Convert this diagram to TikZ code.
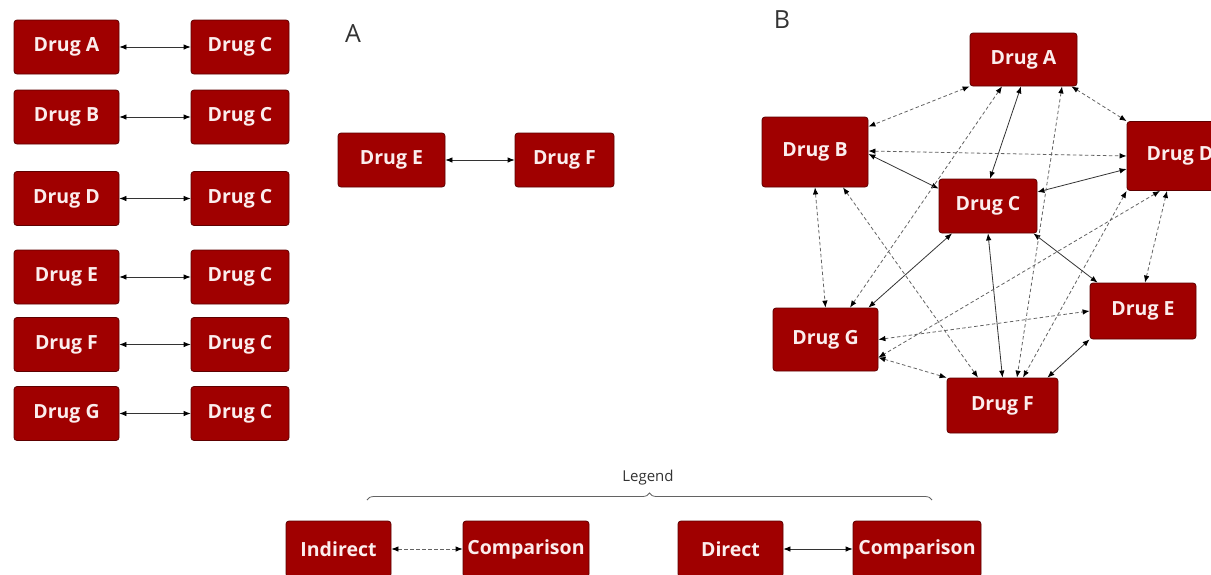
\documentclass[tikz,border=0pt]{standalone}
\usepackage{fontspec}
\setmainfont{Open Sans}
\usetikzlibrary{arrows.meta,decorations.pathreplacing}
\definecolor{drugfill}{HTML}{A00000}
\definecolor{drugedge}{HTML}{5E0000}
\definecolor{drugtext}{HTML}{FBEDED}
\definecolor{linedark}{HTML}{333333}
\definecolor{linelight}{HTML}{636363}
\tikzset{
  drug/.style={draw=drugedge, fill=drugfill, rounded corners=3pt, line width=0.8pt,
               text=drugtext, font=\bfseries\fontsize{19.5}{21}\selectfont,
               minimum height=54pt, inner sep=0pt},
  direct/.style={{Latex[length=7pt,width=5.5pt,color=black]}-{Latex[length=7pt,width=5.5pt,color=black]},
                 draw=linedark, line width=0.8pt},
  indirect/.style={direct, draw=linelight, dash pattern=on 3.5pt off 2.5pt},
  panel/.style={font=\fontsize{25}{28}\selectfont, text=black!80},
}

\begin{document}
\begin{tikzpicture}[x=1pt, y=-1pt]
    \useasboundingbox (0,0) rectangle (1211,574);
    \node[drug, minimum width=105pt] (la) at (66.5, 47) {Drug A};
    \node[drug, minimum width=98pt] (lac) at (240, 47) {Drug C};
    \node[drug, minimum width=105pt] (lb) at (66.5, 117) {Drug B};
    \node[drug, minimum width=98pt] (lbc) at (240, 117) {Drug C};
    \node[drug, minimum width=105pt] (ld) at (66.5, 198.5) {Drug D};
    \node[drug, minimum width=98pt] (ldc) at (240, 198.5) {Drug C};
    \node[drug, minimum width=105pt] (le) at (66.5, 277) {Drug E};
    \node[drug, minimum width=98pt] (lec) at (240, 277) {Drug C};
    \node[drug, minimum width=105pt] (lf) at (66.5, 344.5) {Drug F};
    \node[drug, minimum width=98pt] (lfc) at (240, 344.5) {Drug C};
    \node[drug, minimum width=105pt] (lg) at (66.5, 413.5) {Drug G};
    \node[drug, minimum width=98pt] (lgc) at (240, 413.5) {Drug C};
    \draw[direct] (la) -- (lac);
    \draw[direct] (lb) -- (lbc);
    \draw[direct] (ld) -- (ldc);
    \draw[direct] (le) -- (lec);
    \draw[direct] (lf) -- (lfc);
    \draw[direct] (lg) -- (lgc);

    \node[panel] (lblA) at (353, 34) {A};
    \node[drug, minimum width=107pt] (pe) at (391.5, 160) {Drug E};
    \node[drug, minimum width=99pt] (pf) at (564.5, 160) {Drug F};
    \draw[direct] (pe) -- (pf);

    \node[panel] (lblB) at (782, 20) {B};
    \node[drug, minimum width=107pt, minimum height=53pt] (nA) at (1023.5, 59.5) {Drug A};
    \node[drug, minimum width=106pt, minimum height=70pt] (nB) at (815, 152) {Drug B};
    \node[drug, minimum width=98pt, minimum height=54pt] (nC) at (988, 206) {Drug C};
    \node[drug, minimum width=106pt, minimum height=69pt] (nD) at (1180, 156) {Drug D};
    \node[drug, minimum width=106pt, minimum height=56pt] (nE) at (1143, 311) {Drug E};
    \node[drug, minimum width=111pt, minimum height=55pt] (nF) at (1002.5, 405.5) {Drug F};
    \node[drug, minimum width=105pt, minimum height=63pt] (nG) at (825.5, 339.5) {Drug G};

    \draw[direct] ([xshift=-2.5pt]nA.south) -- ([xshift=2pt]nC.north);
    \draw[direct] ([yshift=-2pt]nB.east) -- ([yshift=-10pt]nC.north west);
    \draw[direct] ([yshift=14pt]nC.east) -- ([yshift=-13pt]nD.west);
    \draw[direct] ([xshift=-36pt]nC.south) -- ([xshift=-10pt]nG.north east);
    \draw[direct] (nC.south) -- (nF.north);
    \draw[direct] ([xshift=-4pt]nC.south east) -- ([xshift=8pt]nE.north west);
    \draw[direct] (nE.south west) -- ([xshift=-11pt]nF.north east);

    \draw[indirect] (nA.south west) -- ([yshift=-10pt]nB.north east);
    \draw[indirect] ([xshift=-6pt]nA.south east) -- (nD.north west);
    \draw[indirect] ([yshift=1pt]nB.east) -- (nD.west);
    \draw[indirect] ([xshift=-21.5pt]nA.south) -- ([xshift=24.5pt]nG.north);
    \draw[indirect] ([xshift=38.5pt]nA.south) -- ([xshift=14.5pt]nF.north);
    \draw[indirect] (nB.south) -- (nG.north);
    \draw[indirect] ([xshift=28pt]nB.south) -- ([xshift=-24.5pt]nF.north);
    \draw[indirect] (nD.south west) -- ([xshift=20.5pt]nF.north);
    \draw[indirect] ([xshift=-20pt]nD.south) -- ([yshift=-18pt]nG.east);
    \draw[indirect] ([xshift=-13pt]nD.south) -- ([xshift=2pt]nE.north);
    \draw[indirect] (nG.east) -- (nE.west);
    \draw[indirect] ([yshift=-18pt]nG.east) -- (nF.north west);

    \node[font=\fontsize{15}{17}\selectfont, text=black!80] (lglabel) at (648, 478) {Legend};
    \draw[decorate, decoration={brace, amplitude=7pt}, line width=0.8pt, linelight]
      (367, 500) -- (932, 500);
    \node[drug, minimum width=105pt, minimum height=56pt] (lgi) at (338.5, 549) {Indirect};
    \node[drug, minimum width=126pt, minimum height=56pt] (lgic) at (526, 549) {Comparison};
    \node[drug, minimum width=105pt, minimum height=56pt] (lgd) at (730.5, 549) {Direct};
    \node[drug, minimum width=128pt, minimum height=56pt] (lgdc) at (917, 549) {Comparison};
    \draw[indirect] (lgi) -- (lgic);
    \draw[direct] (lgd) -- (lgdc);
\end{tikzpicture}
\end{document}
